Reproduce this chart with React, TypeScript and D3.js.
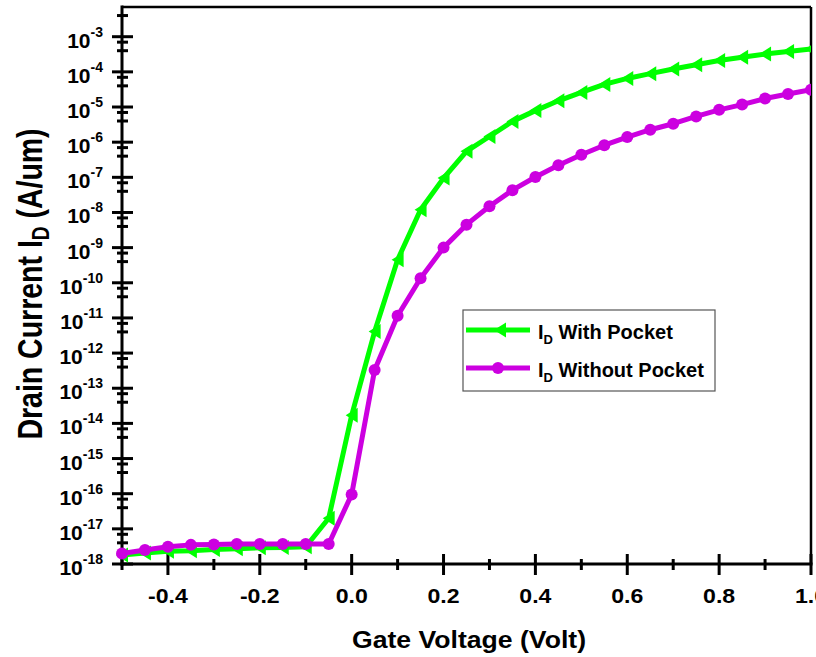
import React from 'react';
import * as d3 from 'd3';

// gate voltage sweep (V)
const gateVoltage = [
  -0.5, -0.45, -0.4, -0.35, -0.3, -0.25, -0.2, -0.15, -0.1, -0.05,
  0.0, 0.05, 0.1, 0.15, 0.2, 0.25, 0.3, 0.35, 0.4, 0.45,
  0.5, 0.55, 0.6, 0.65, 0.7, 0.75, 0.8, 0.85, 0.9, 0.95, 1.0,
];

// drain current (A/um)
const withPocket = [
  1.8e-18, 2.05e-18, 2.3e-18, 2.4e-18, 2.6e-18, 2.7e-18, 2.9e-18, 2.95e-18, 3.1e-18, 2e-17,
  1.7e-14, 4.1e-12, 4.5e-10, 1.2e-8, 9.5e-8, 5.5e-7, 1.45e-6, 3.9e-6, 7.9e-6, 1.5e-5,
  2.6e-5, 4.4e-5, 6.5e-5, 8.9e-5, 1.2e-4, 1.6e-4, 2.1e-4, 2.6e-4, 3.2e-4, 3.8e-4, 4.5e-4,
];
const withoutPocket = [
  2.0e-18, 2.5e-18, 3.1e-18, 3.5e-18, 3.6e-18, 3.7e-18, 3.7e-18, 3.7e-18, 3.7e-18, 3.7e-18,
  9.5e-17, 3.3e-13, 1.15e-11, 1.35e-10, 1e-9, 4.5e-9, 1.5e-8, 4.3e-8, 1.02e-7, 2.2e-7,
  4.4e-7, 8.2e-7, 1.4e-6, 2.26e-6, 3.35e-6, 5.4e-6, 8.3e-6, 1.17e-5, 1.74e-5, 2.35e-5, 3.1e-5,
];

const xTicks = [-0.4, -0.2, 0.0, 0.2, 0.4, 0.6, 0.8, 1.0];
const xTickLabels = ['-0.4', '-0.2', '0.0', '0.2', '0.4', '0.6', '0.8', '1.0'];
const xMinorTicks = [-0.5, -0.3, -0.1, 0.1, 0.3, 0.5, 0.7, 0.9];
const yExponents = [-18, -17, -16, -15, -14, -13, -12, -11, -10, -9, -8, -7, -6, -5, -4, -3];
const yMinorMultipliers = [4, 7];

const seriesNames = ['With Pocket', 'Without Pocket'];

const W = 816;
const H = 657;
const margin = { top: 7, right: 5, bottom: 93, left: 122 };
const FONT = "'Liberation Sans', Arial, Helvetica, sans-serif";
const GREEN = '#00ff00';
const PURPLE = '#cc00e0';

// left pointing triangle
const triPath = 'M-6,0L6,-7.5L6,7.5Z';

export default function App() {
  const x0 = margin.left;
  const x1 = W - margin.right;
  const y0 = H - margin.bottom;
  const y1 = margin.top;

  const x = d3.scaleLinear().domain([-0.5, 1.0]).range([x0, x1]);
  const y = d3.scaleLog().domain([1e-18, 7e-3]).range([y0, y1]);

  const line = d3.line<number>()
    .x((d, i) => x(gateVoltage[i]))
    .y((d) => y(d));

  const minorY: number[] = [];
  yExponents.forEach((e) => {
    yMinorMultipliers.forEach((m) => {
      const v = m * Math.pow(10, e);
      if (v < 7e-3) minorY.push(v);
    });
  });

  const lgX = 463, lgY = 310;

  return (
    <svg width={W} height={H} style={{ position: 'absolute', left: 0, top: 0, display: 'block', background: '#fff' }}
      fontFamily={FONT} fontWeight="bold">
      <defs>
        <clipPath id="plotClip">
          <rect x={0} y={0} width={x1} height={H} />
        </clipPath>
      </defs>

      {/* frame */}
      <line x1={x0} x2={x1} y1={y1} y2={y1} stroke="#000" strokeWidth={2.5} />
      <line x1={x1} x2={x1} y1={y1} y2={y0} stroke="#000" strokeWidth={2.5} />
      <line x1={x0 - 1.5} x2={x1 + 1.5} y1={y0} y2={y0} stroke="#000" strokeWidth={3} />
      <line x1={x0} x2={x0} y1={y1 - 1.5} y2={y0 + 1.5} stroke="#000" strokeWidth={3} />

      {/* x ticks */}
      {xTicks.map((t, i) => (
        <g key={'xt' + i}>
          <line x1={x(t)} x2={x(t)} y1={y0 - 10} y2={y0 + 11} stroke="#000" strokeWidth={3} />
          <text transform={`translate(${x(t)},603) scale(1.1,1)`} textAnchor="middle" fontSize={21}>{xTickLabels[i]}</text>
        </g>
      ))}
      {xMinorTicks.map((t, i) => (
        <line key={'xm' + i} x1={x(t)} x2={x(t)} y1={y0 - 5} y2={y0 + 6} stroke="#000" strokeWidth={3} />
      ))}

      {/* y ticks */}
      {yExponents.map((e) => (
        <g key={'yt' + e}>
          <line x1={x0 - 10} x2={x0 + 11} y1={y(Math.pow(10, e))} y2={y(Math.pow(10, e))} stroke="#000" strokeWidth={3} />
          <text x={103} y={y(Math.pow(10, e)) + 11} textAnchor="end" fontSize={21}>
            10<tspan fontSize={14} dy={-11}>{String(e)}</tspan>
          </text>
        </g>
      ))}
      {minorY.map((v, i) => (
        <line key={'ym' + i} x1={x0 - 5} x2={x0 + 6} y1={y(v)} y2={y(v)} stroke="#000" strokeWidth={3} />
      ))}

      {/* axis titles */}
      <text transform="translate(469,648) scale(1.157,1)" textAnchor="middle" fontSize={23}>Gate Voltage (Volt)</text>
      <text transform="translate(42,284) scale(1.22,1) rotate(-90)" textAnchor="middle" fontSize={28.5}>
        Drain Current I<tspan fontSize={19} dy={6}>D</tspan><tspan dy={-6}> (A/um)</tspan>
      </text>

      {/* series */}
      <g clipPath="url(#plotClip)">
        <path d={line(withPocket) || ''} fill="none" stroke={GREEN} strokeWidth={5} strokeLinejoin="round" />
        {withPocket.map((v, i) => (
          <path key={'g' + i} d={triPath} transform={`translate(${x(gateVoltage[i])},${y(v)})`} fill={GREEN} />
        ))}
        <path d={line(withoutPocket) || ''} fill="none" stroke={PURPLE} strokeWidth={5} strokeLinejoin="round" />
        {withoutPocket.map((v, i) => (
          <circle key={'p' + i} cx={x(gateVoltage[i])} cy={y(v)} r={6} fill={PURPLE} />
        ))}
      </g>

      {/* legend */}
      <rect x={lgX} y={lgY} width={252} height={81} fill="#fff" stroke="#555" strokeWidth={1.2} />
      <line x1={lgX + 3} x2={lgX + 67} y1={lgY + 20} y2={lgY + 20} stroke={GREEN} strokeWidth={5} />
      <path d={triPath} transform={`translate(${lgX + 37},${lgY + 20})`} fill={GREEN} />
      <line x1={lgX + 3} x2={lgX + 67} y1={lgY + 58} y2={lgY + 58} stroke={PURPLE} strokeWidth={5} />
      <circle cx={lgX + 35} cy={lgY + 58} r={6} fill={PURPLE} />
      {seriesNames.map((name, i) => (
        <text key={'lg' + i} x={lgX + 75} y={lgY + 29 + i * 38} fontSize={20}>
          I<tspan fontSize={13} dy={5}>D</tspan><tspan dy={-5}> {name}</tspan>
        </text>
      ))}
    </svg>
  );
}
